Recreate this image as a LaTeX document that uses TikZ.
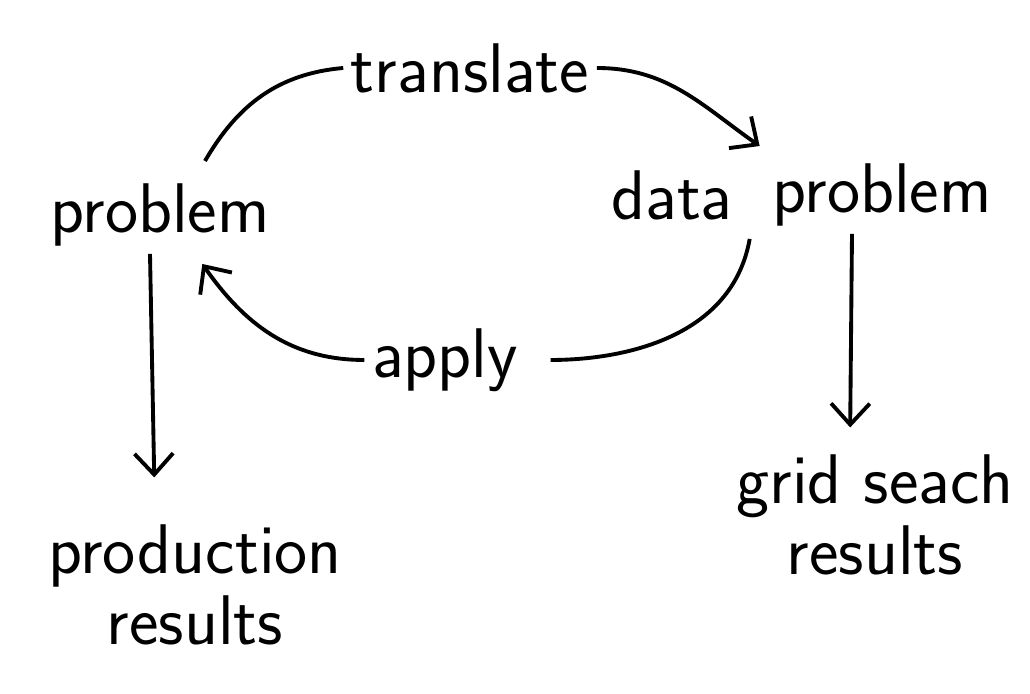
\documentclass[tikz,border=0pt]{standalone}
\usepackage{tikz}
\usetikzlibrary{arrows.meta, positioning}
\tikzset{
    word/.style={font=\fontsize{20}{20}\selectfont\sffamily, inner sep=2pt, align=center, text=black},
    flow/.style={-{Straight Barb[length=6pt, width=11pt, line width=1.1pt]}, line width=1.1pt, black},
    plain/.style={line width=1.1pt, black},
}
\begin{document}
\begin{tikzpicture}
\useasboundingbox (0,0) rectangle (10.3,-6.94);
\node[word] (lp) at (1.60,-2.15) {problem};
\node[word] (trans) at (4.70,-0.68) {translate};
\node[word] (data) at (6.72,-1.95) {data};
\node[word] (dp) at (8.82,-1.95) {problem};
\node[word] (apply) at (4.45,-3.60) {apply};
\node[word] (prod) at (1.95,-5.85) {production\\results};
\node[word] (grid) at (8.75,-5.15) {grid seach\\results};
% translate, from left problem over to data problem
\draw[plain] ([xshift=0.45cm,yshift=0.15cm]lp.north) to[out=60,in=185] (trans.west);
\draw[flow] (trans.east) to[out=0,in=145] ([xshift=-0.05cm,yshift=0.1cm]dp.north west);
% apply, back again
\draw[plain, shorten >=0.25cm] ([xshift=-0.15cm,yshift=-0.05cm]dp.south west) to[out=-100,in=0] (apply.east);
\draw[flow] (apply.west) to[out=180,in=-55] ([xshift=-0.75cm,yshift=-0.1cm]lp.south east);
% results
\draw[flow, shorten >=0.4cm] ([xshift=-0.1cm]lp.south) -- ([xshift=-0.4cm]prod.north);
\draw[flow, shorten >=0.2cm] ([xshift=-0.3cm]dp.south) -- ([xshift=-0.25cm]grid.north);
\end{tikzpicture}
\end{document}
